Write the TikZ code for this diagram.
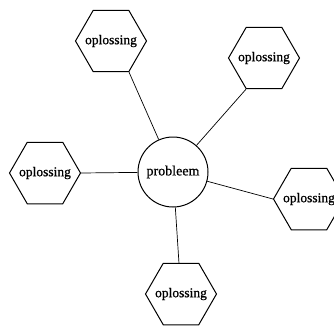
\documentclass[tikz,border=0pt]{standalone}
\usepackage{fontspec}
\setmainfont{Liberation Serif}
% slightly heavier face for the printed labels
\newfontfamily\heavyserif[FakeBold=0.8]{Liberation Serif}
\usetikzlibrary{shapes.geometric}
\begin{document}
\begin{tikzpicture}[x=1pt,y=-1pt,
  hexa/.style={draw, line width=1pt, regular polygon, regular polygon sides=6,
    minimum size=71pt, inner sep=0pt,
    label={[font=\heavyserif\fontsize{13.5}{15}\selectfont, inner sep=0pt]center:#1}},
  core/.style={draw, line width=1pt, circle, minimum size=70pt, inner sep=0pt,
    font=\heavyserif\fontsize{14}{16}\selectfont},
  link/.style={line width=0.7pt}]
  \useasboundingbox (0,0) rectangle (334,325);
  \clip (0,0) rectangle (334,325);
  % central problem
  \node[core] (P) at (173,172) {probleem};
  % surrounding solutions
  \node[hexa=oplossing] (A) at (111,41)  {};
  \node[hexa=oplossing] (B) at (264,58)  {};
  \node[hexa=oplossing] (C) at (45,173)  {};
  \node[hexa=oplossing] (D) at (309,199) {};
  \node[hexa=oplossing] (E) at (181,294) {};
  % spokes
  \draw[link] (A.300) -- (P);
  \draw[link] (B.240) -- (P);
  \draw[link] (C.0)   -- (P);
  \draw[link] (D.180) -- (P);
  \draw[link] (P) -- (E);
\end{tikzpicture}
\end{document}
